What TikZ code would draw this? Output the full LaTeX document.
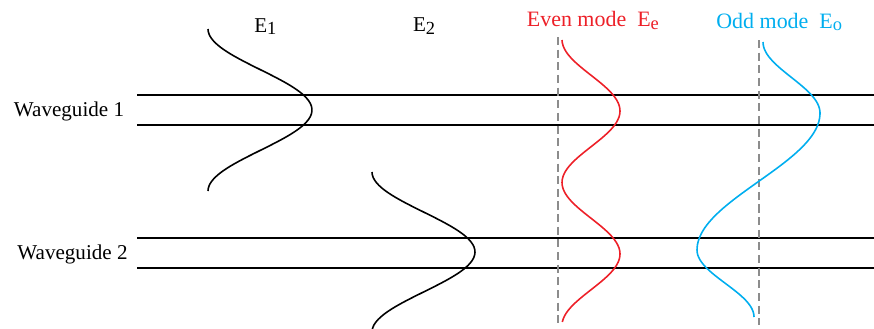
\documentclass[tikz,border=0pt]{standalone}
\usepackage{fontspec}
\setmainfont{Liberation Serif}
\usepackage{tikz}

\definecolor{evenred}{RGB}{237,32,40}
\definecolor{oddblue}{RGB}{0,174,239}
\definecolor{axisgray}{RGB}{140,140,140}
\newcommand{\fsub}[1]{\raisebox{-1.5pt}{\fontsize{10.5}{10}\selectfont #1}}

\begin{document}
\begin{tikzpicture}[x=0.02cm,y=-0.02cm,font=\fontsize{12}{14}\selectfont,
  guide/.style={line width=1pt},
  field/.style={line width=0.9pt},
  symaxis/.style={axisgray,line width=1.1pt,dash pattern=on 4.6pt off 2.6pt},
  lab/.style={anchor=base west,inner sep=0pt},
  modelab/.style={lab,font=\fontsize{12.5}{14}\selectfont}]
\useasboundingbox (0,0) rectangle (874,328);
% waveguides
\foreach \n/\ya/\yb/\lx/\ly in {1/95/125/69/116,2/238/268/72.5/259.3}{
  \node[anchor=base,inner sep=0pt] (wg\n) at (\lx,\ly) {Waveguide \n};
  \draw[guide] (137,\ya) -- (874,\ya);
  \draw[guide] (137,\yb) -- (874,\yb);
}
% symmetry axes of the supermodes
\draw[symaxis] (558,37) -- (558,325);
\draw[symaxis] (759,40) -- (759,325);
% single-guide fields
\draw[field] plot[smooth,samples=60,domain=29:191,variable=\t]
  ({208+52*(1+cos(2.2222*(\t-110)))},\t);
\draw[field] plot[smooth,samples=60,domain=172:330,variable=\t]
  ({372+51.5*(1+cos(2.25*(\t-252)))},\t);
% even mode
\draw[field,evenred] plot[smooth,samples=100,domain=40:322,variable=\t]
  ({562+29*(1+cos(2.5175*(\t-111)))},\t);
% odd mode
\draw[field,oddblue] plot[smooth,samples=30,domain=42:113,variable=\t]
    ({820-28.5*(1-cos(2.5352*(\t-113)))},\t)
  -- plot[smooth,samples=50,domain=113:250,variable=\t]
    ({758.5+61.5*cos(1.3139*(\t-113))},\t)
  -- plot[smooth,samples=30,domain=250:317,variable=\t]
    ({697+28.5*(1-cos(2.6866*(\t-250)))},\t);
% labels
\node[lab] (e1) at (254,32.3) {E\fsub{1}};
\node[lab] (e2) at (412.7,31.7) {E\fsub{2}};
\node[modelab,evenred] (even) at (526.5,26.7) {Even mode\ \ E\fsub{e}};
\node[modelab,oddblue] (odd) at (716,28.3) {Odd mode\ \ E\fsub{o}};
\end{tikzpicture}
\end{document}
